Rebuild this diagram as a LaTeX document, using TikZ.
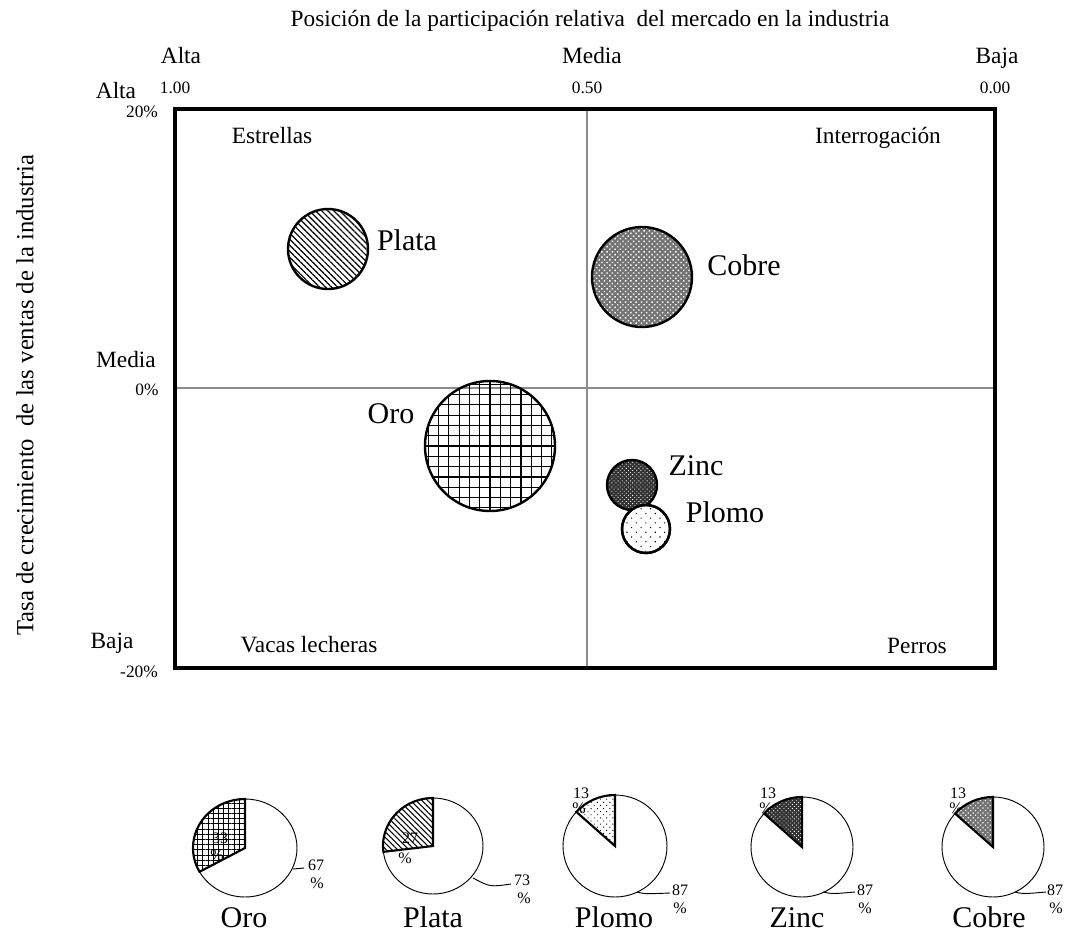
\documentclass[tikz,border=0pt]{standalone}
\usepackage{fontspec}
\setmainfont{Liberation Serif}
\usetikzlibrary{patterns.meta}
\begin{document}
\begin{tikzpicture}[x=0.75pt,y=-0.75pt,
  med/.style={font=\fontsize{17.5}{20}\selectfont, inner sep=0pt, anchor=base},
  big/.style={font=\fontsize{22.5}{26}\selectfont, inner sep=0pt, anchor=base},
  num/.style={font=\fontsize{13}{15}\selectfont, inner sep=0pt, anchor=base},
  pnum/.style={font=\fontsize{12}{14}\selectfont, inner sep=0pt, anchor=base},
  bubble/.style={line width=1.8pt},
  pieedge/.style={line width=0.7pt},
  wedge/.style={line width=1.6pt},
  midline/.style={draw=black!45, line width=0.8pt},
  leader/.style={line width=0.7pt},
  gridline/.style={line width=0.9pt},
]
\useasboundingbox (0,0) rectangle (1065,933);

% ---- frame and mid lines
\coordinate (ftop) at (587,109); \coordinate (fbot) at (587,668);
\coordinate (fleft) at (175,388); \coordinate (fright) at (995,388);
\draw[midline] (ftop) -- (fbot);
\draw[midline] (fleft) -- (fright);
\draw[line width=3.3pt] (175,109) rectangle (995,668);

% ---- axis texts
\node[med] (title) at (590,26) {Posición de la participación relativa\ \ del mercado en la industria};
\node[med] (xalta) at (181,63) {Alta};
\node[med] (xmedia) at (592,63) {Media};
\node[med] (xbaja) at (997,63) {Baja};
\node[num] (x100) at (175,93) {1.00};
\node[num] (x050) at (587,93) {0.50};
\node[num] (x000) at (995,93) {0.00};
\node[med] (yalta) at (116,98) {Alta};
\node[num] (y20) at (142,117) {20\%};
\node[med] (ymedia) at (126,367) {Media};
\node[num] (y0) at (147,395) {0\%};
\node[med] (ybaja) at (112,648) {Baja};
\node[num] (ym20) at (139,677) {-20\%};
\node[med, font=\fontsize{18.5}{21}\selectfont, rotate=90, anchor=center] (ylab) at (25,395) {Tasa de crecimiento\ \ de las ventas de la industria};

% ---- quadrant names
\node[med] (qest) at (272,143) {Estrellas};
\node[med] (qint) at (878,143) {Interrogación};
\node[med] (qvac) at (309,652) {Vacas lecheras};
\node[med] (qper) at (917,653) {Perros};

% ---- bubbles
\draw[bubble, pattern={Lines[angle=-45,distance=3.2pt,line width=0.9pt]}] (328,249) circle[radius=40];
\draw[bubble, preaction={fill=black!55}, pattern={Dots[distance=2.8pt,radius=0.75pt,angle=45]}, pattern color=white] (642,277) circle[radius=50];
\begin{scope}
  \clip (490,446) circle[radius=65];
  \foreach \k in {-7,...,7} {
    \draw[gridline] ({490+\k*10.3},375) -- ({490+\k*10.3},517);
    \draw[gridline] (419,{446+\k*10.3}) -- (561,{446+\k*10.3});
  }
\end{scope}
\draw[bubble] (490,446) circle[radius=65];
\draw[bubble, preaction={fill=black!80}, pattern={Dots[distance=2.2pt,radius=0.45pt,angle=45]}, pattern color=white] (632,485) circle[radius=25];
\draw[bubble, fill=white] (646,529) circle[radius=24];
\draw[bubble, pattern={Dots[distance=5pt,radius=0.6pt,angle=45]}] (646,529) circle[radius=24];

\node[big] (bplata) at (407,250) {Plata};
\node[big] (bcobre) at (744,275) {Cobre};
\node[big] (boro) at (391,423) {Oro};
\node[big] (bzinc) at (696,475) {Zinc};
\node[big] (bplomo) at (725,522) {Plomo};

% ---- pie: Oro
\draw[pieedge] (245,848) ellipse [x radius=52, y radius=49];
\node[pnum] (o33) at (220,843) {33};
\node[pnum] (o33p) at (217,860) {\%};
\draw[wedge, pattern={Hatch[angle=0,distance=3.9pt,line width=0.6pt]}] (245,848) -- ++(-90:52 and 49) arc[start angle=-90, end angle=-209, x radius=52, y radius=49] -- cycle;
\node[pnum] (o67) at (316,870) {67};
\node[pnum] (o67p) at (317,888) {\%};
\coordinate (oroA) at (293,869); \coordinate (oroB) at (304,868);
\draw[leader] (oroA) -- (oroB);
\node[big] (poro) at (244,927) {Oro};

% ---- pie: Plata
\draw[pieedge] (433,846) ellipse [x radius=50, y radius=48];
\node[pnum] (p27) at (410,843) {27};
\node[pnum] (p27p) at (405,863) {\%};
\draw[wedge, pattern={Lines[angle=-45,distance=3pt,line width=0.8pt]}] (433,846) -- ++(-90:50 and 48) arc[start angle=-90, end angle=-187, x radius=50, y radius=48] -- cycle;
\node[pnum] (p73) at (522,885) {73};
\node[pnum] (p73p) at (524,903) {\%};
\coordinate (plaA) at (473,878); \coordinate (plaB) at (511,884);
\draw[leader] (plaA) .. controls (490,887) .. (plaB);
\node[big] (pplata) at (433,927) {Plata};

% ---- pie: Plomo
\draw[pieedge] (615,846) ellipse [x radius=52, y radius=51];
\node[pnum] (l13) at (581,798) {13};
\node[pnum] (l13p) at (579,813) {\%};
\draw[wedge, pattern={Dots[distance=3.3pt,radius=0.5pt,angle=45]}] (615,846) -- ++(-90:52 and 51) arc[start angle=-90, end angle=-138, x radius=52, y radius=51] -- cycle;
\node[pnum] (l87) at (680,895) {87};
\node[pnum] (l87p) at (680,913) {\%};
\coordinate (plmA) at (637,892); \coordinate (plmB) at (670,893);
\draw[leader] (plmA) .. controls (645,894) .. (plmB);
\node[big] (pplomo) at (614,927) {Plomo};

% ---- pie: Zinc
\draw[pieedge] (802,847) ellipse [x radius=51, y radius=50];
\node[pnum] (z13) at (768,798) {13};
\node[pnum] (z13p) at (766,813) {\%};
\draw[wedge, preaction={fill=black!80}, pattern={Dots[distance=2.2pt,radius=0.45pt,angle=45]}, pattern color=white] (802,847) -- ++(-90:51 and 50) arc[start angle=-90, end angle=-138, x radius=51, y radius=50] -- cycle;
\node[pnum] (z87) at (865,895) {87};
\node[pnum] (z87p) at (865,913) {\%};
\coordinate (zinA) at (823,892); \coordinate (zinB) at (855,892);
\draw[leader] (zinA) .. controls (832,894) .. (zinB);
\node[big] (pzinc) at (797,927) {Zinc};

% ---- pie: Cobre
\draw[pieedge] (993,847) ellipse [x radius=51, y radius=50];
\node[pnum] (c13) at (958,798) {13};
\node[pnum] (c13p) at (956,813) {\%};
\draw[wedge, preaction={fill=black!55}, pattern={Dots[distance=2.6pt,radius=0.65pt,angle=45]}, pattern color=white] (993,847) -- ++(-90:51 and 50) arc[start angle=-90, end angle=-138, x radius=51, y radius=50] -- cycle;
\node[pnum] (c87) at (1055,895) {87};
\node[pnum] (c87p) at (1056,913) {\%};
\coordinate (cobA) at (1015,892); \coordinate (cobB) at (1046,892);
\draw[leader] (cobA) .. controls (1023,894) .. (cobB);
\node[big] (pcobre) at (989,927) {Cobre};
\end{tikzpicture}
\end{document}
